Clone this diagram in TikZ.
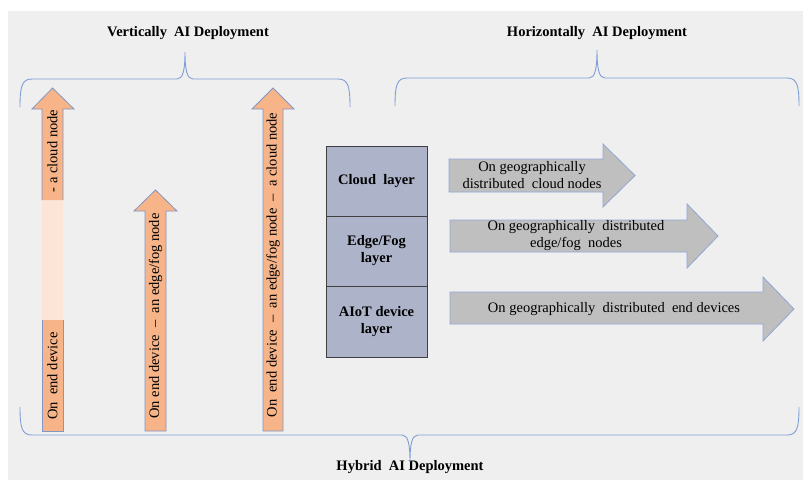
\documentclass[tikz,border=0pt]{standalone}
\usepackage{fontspec}
\setmainfont{Liberation Serif}
\definecolor{panel}{HTML}{EFEFEF}
\definecolor{bracecol}{HTML}{7F9FD8}
\definecolor{orangefill}{HTML}{F6B488}
\definecolor{pinkfill}{HTML}{FCE4D6}
\definecolor{arrowline}{HTML}{8397C4}
\definecolor{layerfill}{HTML}{ADB4C9}
\definecolor{layerline}{HTML}{404040}
\definecolor{greyfill}{HTML}{BFBFBF}
\definecolor{greyline}{HTML}{8FA6D6}
\begin{document}
\begin{tikzpicture}[x=1pt,y=-1pt,
  txt/.style={font=\fontsize{14.5}{17}\selectfont, inner sep=0pt, align=center},
  title/.style={txt, font=\fontsize{14.5}{17}\selectfont\bfseries},
  vtxt/.style={txt, rotate=90},
  bracepath/.style={draw=bracecol, line width=0.9pt},
  uparrow/.style={fill=orangefill, draw=arrowline, line width=0.8pt, line join=miter},
  rarrow/.style={fill=greyfill, draw=greyline, line width=0.8pt, line join=miter},
  layerbox/.style={fill=layerfill, draw=layerline, line width=0.8pt}]
\useasboundingbox (0,0) rectangle (803,480);
\fill[white] (0,0) rectangle (803,480);
\fill[panel] (8,11) rectangle (803,480);

% headings
\node[title] (vt) at (188,33) {Vertically\ \ AI Deployment};
\node[title] (ht) at (597,33) {Horizontally\ \ AI Deployment};
\node[title] (hy) at (410,467) {Hybrid\ \ AI Deployment};

% braces
\draw[bracepath] (20,107) .. controls (20,86) and (22,79) .. (32,79) -- (177,79)
  .. controls (183,79) and (185,70) .. (185,52)
  .. controls (185,70) and (187,79) .. (193,79) -- (338,79)
  .. controls (348,79) and (350,86) .. (350,107);
\draw[bracepath] (395,106) .. controls (395,85) and (397,78) .. (407,78) -- (589,78)
  .. controls (595,78) and (597,69) .. (597,50)
  .. controls (597,69) and (599,78) .. (605,78) -- (787,78)
  .. controls (797,78) and (799,85) .. (799,106);
\draw[bracepath] (20,407) .. controls (20,428) and (22,435) .. (32,435) -- (402,435)
  .. controls (408,435) and (410,444) .. (410,462)
  .. controls (410,444) and (412,435) .. (418,435) -- (787,435)
  .. controls (797,435) and (799,428) .. (799,407);

% vertical arrows: the first one has a pale middle section
\fill[pinkfill] (42,200) rectangle (63,320);
\fill[orangefill] (42,200) -- (42,109) -- (32,109) -- (52.5,88) -- (74,109) -- (63,109) -- (63,200) -- cycle;
\draw[draw=arrowline, line width=0.8pt, line join=miter] (42,200) -- (42,109) -- (32,109) -- (52.5,88) -- (74,109) -- (63,109) -- (63,200);
\fill[orangefill] (42,320) rectangle (63,431);
\draw[draw=arrowline, line width=0.8pt, line join=miter] (42,320) -- (42,431) -- (63,431) -- (63,320);
\node[vtxt] (a1top) at (52.5,151) {- a cloud node};
\node[vtxt] (a1bot) at (52.5,376) {On\ \ end device};

\draw[uparrow] (145,431) -- (145,211) -- (134,211) -- (155.5,190) -- (177,211) -- (166,211) -- (166,431) -- cycle;
\node[vtxt] (a2) at (155.5,316) {On end device\ \ –\ \ an edge/fog node};

\draw[uparrow] (263,431) -- (263,109) -- (252,109) -- (273,88) -- (294,109) -- (283,109) -- (283,431) -- cycle;
\node[vtxt] (a3) at (273,265) {On\ \ end device\ \ –\ \ an edge/fog node\ \ –\ \ a cloud node};

% layer stack
\node[layerbox, minimum width=101pt, minimum height=70pt, txt, font=\fontsize{14.5}{17}\selectfont\bfseries] (cloud) at (376.5,181) {Cloud\ \ layer};
\node[layerbox, minimum width=101pt, minimum height=70pt, txt, font=\fontsize{14.5}{17}\selectfont\bfseries] (edge) at (376.5,251) {Edge/Fog\\layer};
\node[layerbox, minimum width=101pt, minimum height=71pt, txt, font=\fontsize{14.5}{17}\selectfont\bfseries] (aiot) at (376.5,321.5) {AIoT device\\layer};

% horizontal arrows
\draw[rarrow] (449,159) -- (603,159) -- (603,144) -- (635,175.5) -- (603,207) -- (603,192) -- (449,192) -- cycle;
\node[txt] (h1) at (532,175.5) {On geographically\\distributed\ \ cloud nodes};

\draw[rarrow] (450,220) -- (687,220) -- (687,204) -- (718,236) -- (687,268) -- (687,252) -- (450,252) -- cycle;
\node[txt] (h2) at (576,236) {On geographically\ \ distributed\\edge/fog\ \ nodes};

\draw[rarrow] (450,292) -- (763,292) -- (763,277) -- (794,309) -- (763,341) -- (763,324) -- (450,324) -- cycle;
\node[txt] (h3) at (614,309) {On geographically\ \ distributed\ \ end devices};
\end{tikzpicture}
\end{document}
